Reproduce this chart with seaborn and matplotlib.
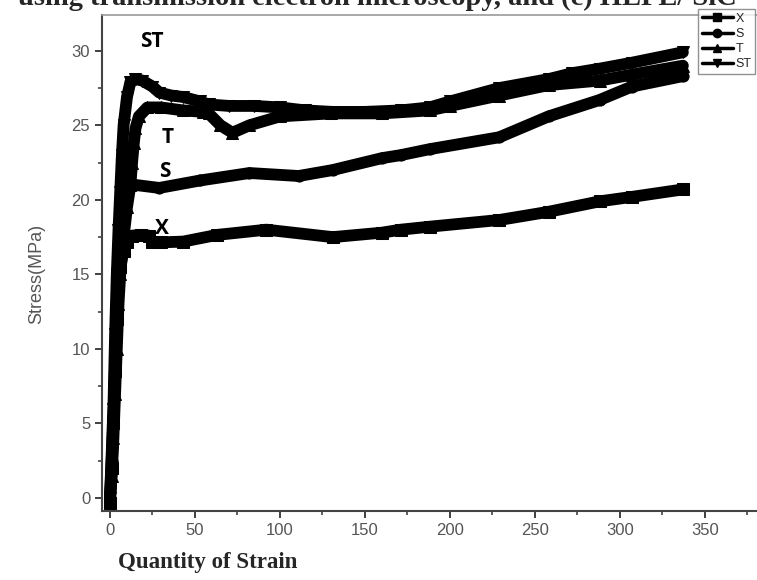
import numpy as np
import pandas as pd
import matplotlib
matplotlib.use("Agg")
import matplotlib.pyplot as plt
import seaborn as sns
from matplotlib.lines import Line2D
from matplotlib.ticker import MultipleLocator

# ---- data ----
series_names = ["X", "S", "T", "ST"]
series_markers = ["s", "o", "^", "v"]

x_strain = [0, 1, 2, 3, 4, 5, 6, 8, 10, 13, 18, 23, 25, 30, 43, 63, 92, 131,
            160, 171, 188, 229, 258, 288, 307, 337]
x_stress = [-0.3, 2, 5, 8.5, 12, 14.2, 15.5, 16.6, 17.2, 17.6, 17.65, 17.6, 17.2,
            17.15, 17.2, 17.65, 18.0, 17.5, 17.8, 18.0, 18.2, 18.65, 19.2, 19.9,
            20.2, 20.7]

s_strain = [0, 1, 2, 3, 4, 5, 6, 7, 8, 10, 15, 29, 53, 82, 111, 131, 160, 171,
            188, 229, 258, 288, 307, 337]
s_stress = [0, 2.5, 5.5, 9, 12.5, 15.5, 18, 19.5, 20.3, 20.8, 21.0, 20.8, 21.3,
            21.8, 21.6, 22.0, 22.8, 23.0, 23.4, 24.2, 25.6, 26.7, 27.6, 28.3]

t_strain = [0, 1, 2, 3, 4, 5, 6, 8, 10, 12, 13, 14, 15, 17, 22, 30, 43, 55, 58,
            65, 72, 82, 100, 130, 160, 188, 200, 229, 258, 288, 307, 337]
t_stress = [0, 1.5, 4, 7, 10, 13, 15, 17.5, 19.5, 21, 22.5, 23.8, 24.8, 25.6,
            26.2, 26.2, 26.0, 25.9, 25.8, 25.0, 24.5, 25.0, 25.6, 25.8, 25.8,
            26.0, 26.3, 27.0, 27.7, 28.0, 28.4, 29.0]

st_strain = [0, 1, 2, 3, 4, 5, 6, 7, 8, 10, 12, 15, 19, 25, 29, 36, 43, 53, 58,
             70, 85, 100, 115, 131, 150, 171, 188, 200, 229, 258, 272, 288, 307, 337]
st_stress = [0, 3, 6, 11, 15, 18, 20.5, 23, 25, 26.9, 27.9, 28.1, 28.0, 27.6,
             27.2, 27.0, 26.9, 26.6, 26.4, 26.3, 26.3, 26.2, 26.0, 25.9, 25.9,
             26.0, 26.2, 26.6, 27.5, 28.1, 28.5, 28.8, 29.2, 29.9]

annot_labels = ["ST", "T", "S", "X"]
annot_x = [24.7, 34, 32, 30.5]
annot_y = [30.6, 24.2, 21.9, 18.1]

title_text = "using transmission electron microscopy, and (c) HLPE/ SiC"
x_label = "Quantity of Strain"
y_label = "Stress(MPa)"

# ---- build frame ----
frames = []
for name, xs, ys in zip(series_names,
                        [x_strain, s_strain, t_strain, st_strain],
                        [x_stress, s_stress, t_stress, st_stress]):
    frames.append(pd.DataFrame({"strain": xs, "stress": ys, "series": name}))
df = pd.concat(frames, ignore_index=True)

sns.set_style("ticks")
plt.rcParams["font.family"] = ["Liberation Sans", "DejaVu Sans"]

W, H = 757, 580
fig = plt.figure(figsize=(W / 100, H / 100), dpi=100)
ax = fig.add_axes([102 / W, 1 - 511 / H, 1 - 102 / W, (511 - 15) / H])

sns.lineplot(data=df, x="strain", y="stress", hue="series", style="series",
             hue_order=series_names, style_order=series_names,
             palette=["black"] * 4, markers=dict(zip(series_names, series_markers)),
             dashes=False, linewidth=8.5, markersize=8, markeredgecolor="black",
             estimator=None, sort=False, legend=False, ax=ax,
             solid_joinstyle="round", solid_capstyle="round")

ax.set_xlim(-4.7, 380.6)
ax.set_ylim(-0.87, 32.4)
ax.xaxis.set_major_locator(MultipleLocator(50))
ax.xaxis.set_minor_locator(MultipleLocator(25))
ax.yaxis.set_major_locator(MultipleLocator(5))
ax.yaxis.set_minor_locator(MultipleLocator(2.5))
ax.tick_params(which="major", direction="out", length=5, width=1.3,
               color="#333333", labelsize=12, labelcolor="#555555")
ax.tick_params(which="minor", direction="out", length=3, width=1.1, color="#333333")
ax.set_xlabel("")
ax.set_ylabel("")
for side in ["left", "bottom"]:
    ax.spines[side].set_color("#444444")
    ax.spines[side].set_linewidth(1.5)
ax.spines["top"].set_color("#999999")
ax.spines["top"].set_linewidth(1.2)
ax.spines["right"].set_visible(False)

for lab, ax_, ay_ in zip(annot_labels, annot_x, annot_y):
    ax.text(ax_, ay_, lab, fontsize=15, fontweight="bold", ha="center",
            va="center", color="black", family=["Open Sans", "DejaVu Sans"])

handles = [Line2D([0], [0], color="black", lw=2.5, marker=m, markersize=6)
           for m in series_markers]
fig.legend(handles, series_names, loc="upper left",
           bbox_to_anchor=(698 / W, 1 - 9 / H), frameon=True, fancybox=False,
           edgecolor="#777777", fontsize=9, handlelength=2.5, handletextpad=0.2,
           labelspacing=0.25, borderpad=0.3, borderaxespad=0)

fig.text(37 / W, 1 - 274 / H, y_label, rotation=90, ha="center", va="center",
         color="#555555", fontsize=13)
fig.text(118 / W, 1 - 568 / H, x_label, ha="left", va="baseline",
         fontsize=16.5, fontweight="bold", family=["Liberation Serif", "DejaVu Serif"])
fig.text(18 / W, 1 - 5 / H, title_text, ha="left", va="baseline",
         fontsize=20.5, fontweight="bold", family=["Liberation Serif", "DejaVu Serif"])

fig.savefig("out.png", dpi=100)
